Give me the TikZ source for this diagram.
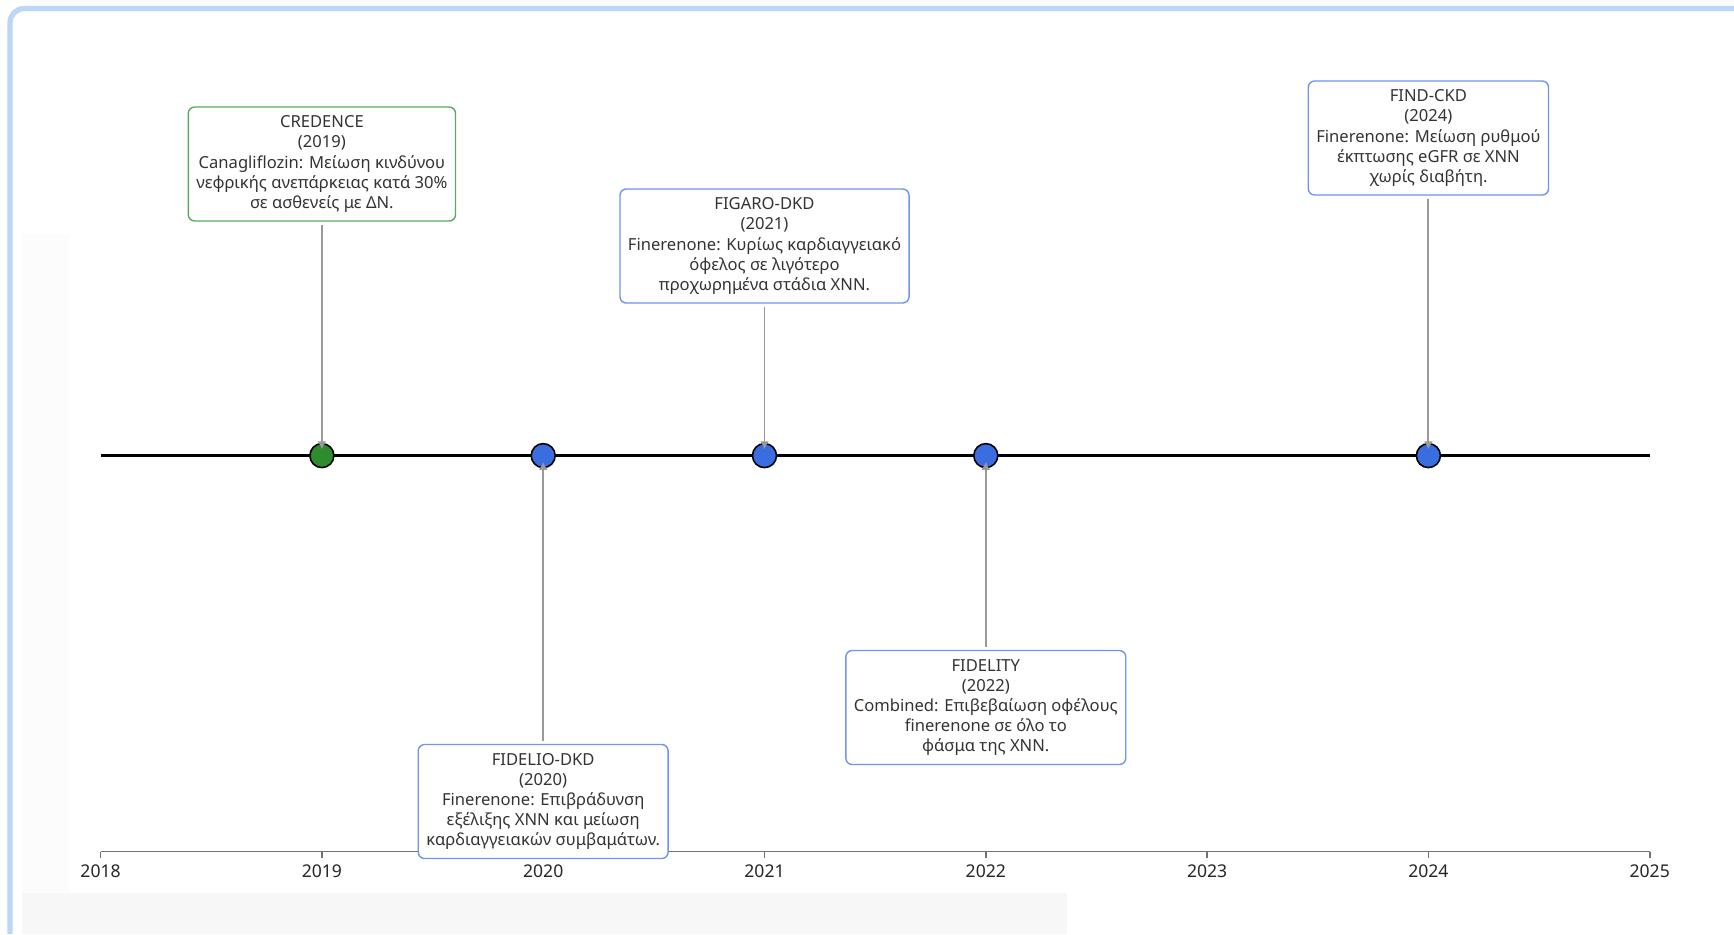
\documentclass[tikz,border=0pt]{standalone}
\usepackage{fontspec}
\setmainfont{Noto Sans}
\definecolor{trialblue}{RGB}{58, 110, 224}
\definecolor{trialgreen}{RGB}{46, 139, 46}
\definecolor{boxblue}{RGB}{110, 150, 235}
\definecolor{boxgreen}{RGB}{90, 172, 90}
\definecolor{framelight}{RGB}{188, 214, 246}
\usetikzlibrary{arrows.meta, positioning, calc}

\begin{document}
\begin{tikzpicture}[
    font=\fontsize{4.72}{5.7}\selectfont, text=black!80,
    trialbox/.style={draw=boxblue, fill=white, line width=0.4pt, rounded corners=1.8pt,
      align=center, inner xsep=0.08cm, inner ysep=0pt, minimum height=1.14cm},
    credbox/.style={trialbox, draw=boxgreen},
    event/.style={circle, draw=black, line width=0.45pt, minimum size=0.24cm, inner sep=0pt},
    stem/.style={draw=black!40, line width=0.55pt, -{Latex[length=0.8mm, width=0.9mm]},
      shorten <=0.03cm, shorten >=-0.065cm},
    yearlabel/.style={font=\fontsize{5}{6}\selectfont, text=black!85}
  ]
  \useasboundingbox (0, 0) rectangle (17.34, 9.34);
  \fill[white] (0, 0) rectangle (17.34, 9.34);

  % Window frame and shadows
  \fill[black!3] (0.22, 0) rectangle (10.67, 0.41);
  \fill[black!1] (0.22, 0.41) rectangle (0.69, 7.0);
  \draw[framelight, line width=1.5pt, rounded corners=4pt] (0.10, 0) -- (0.10, 9.255) -- (17.34, 9.255);

  % Year axis
  \coordinate (ax-start) at (1.006, 0.824);
  \coordinate (ax-end) at (16.497, 0.824);
  \draw[black!55, line width=0.5pt] (ax-start) -- (ax-end);
  \foreach \yr in {2018, ..., 2025} {
    \pgfmathsetmacro{\xx}{1.006 + 2.213*(\yr - 2018)}
    \draw[black!55, line width=0.5pt] (\xx, 0.824) -- (\xx, 0.764);
    \node[yearlabel] (yr\yr) at (\xx, 0.625) {\yr};
  }

  % Timeline
  \coordinate (tl-start) at (1.006, 4.784);
  \coordinate (tl-end) at (16.497, 4.784);
  \draw[black, line width=0.85pt] (tl-start) -- (tl-end);

  % Events on the timeline
  \node[event, fill=trialgreen] (d2019) at (3.219, 4.784) {};
  \node[event, fill=trialblue] (d2020) at (5.432, 4.784) {};
  \node[event, fill=trialblue] (d2021) at (7.645, 4.784) {};
  \node[event, fill=trialblue] (d2022) at (9.858, 4.784) {};
  \node[event, fill=trialblue] (d2024) at (14.284, 4.784) {};

  % Trial boxes
  \node[credbox] (credence) at (3.219, 7.70) {CREDENCE\\(2019)\\Canagliflozin: Μείωση κινδύνου\\νεφρικής ανεπάρκειας κατά 30\%\\σε ασθενείς με ΔΝ.};
  \node[trialbox] (fidelio) at (5.432, 1.325) {FIDELIO-DKD\\(2020)\\Finerenone: Επιβράδυνση\\εξέλιξης ΧΝΝ και μείωση\\καρδιαγγειακών συμβαμάτων.};
  \node[trialbox] (figaro) at (7.645, 6.88) {FIGARO-DKD\\(2021)\\Finerenone: Κυρίως καρδιαγγειακό\\όφελος σε λιγότερο\\προχωρημένα στάδια ΧΝΝ.};
  \node[trialbox] (fidelity) at (9.858, 2.265) {FIDELITY\\(2022)\\Combined: Επιβεβαίωση οφέλους\\finerenone σε όλο το\\φάσμα της ΧΝΝ.};
  \node[trialbox] (findckd) at (14.284, 7.96) {FIND-CKD\\(2024)\\Finerenone: Μείωση ρυθμού\\έκπτωσης eGFR σε ΧΝΝ\\χωρίς διαβήτη.};

  % Stems from boxes to events
  \draw[stem] (credence) -- (d2019);
  \draw[stem] (fidelio) -- (d2020);
  \draw[stem] (figaro) -- (d2021);
  \draw[stem] (fidelity) -- (d2022);
  \draw[stem] (findckd) -- (d2024);
\end{tikzpicture}
\end{document}
